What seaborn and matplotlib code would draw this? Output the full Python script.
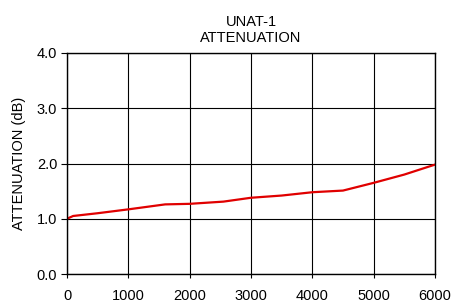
import matplotlib
matplotlib.use("Agg")
import matplotlib.pyplot as plt
import seaborn as sns
import pandas as pd

freq = [0, 100, 500, 1000, 1600, 2000, 2550, 3000, 3500, 4000, 4500, 5000, 5500, 6000]
atten = [1.00, 1.05, 1.10, 1.17, 1.26, 1.27, 1.31, 1.38, 1.42, 1.48, 1.51, 1.65, 1.80, 1.98]
xticks = [0, 1000, 2000, 3000, 4000, 5000, 6000]
yticks = [0.0, 1.0, 2.0, 3.0, 4.0]

sns.set_theme(style="white")
plt.rcParams['font.family'] = ['Liberation Sans', 'DejaVu Sans']

df = pd.DataFrame({"freq": freq, "atten": atten})
fig = plt.figure(figsize=(4.51, 3.03), dpi=100)
ax = fig.add_axes([67/451, 1-274/303, (435-67)/451, (274-53)/303])
sns.lineplot(data=df, x="freq", y="atten", color="#e00000", linewidth=1.6, ax=ax)
ax.set_xlim(0, 6000)
ax.set_ylim(0, 4)
ax.set_xticks(xticks)
ax.set_xticklabels([str(t) for t in xticks], fontsize=10.5)
ax.set_yticks(yticks)
ax.set_yticklabels([f"{t:.1f}" for t in yticks], fontsize=10.5)
ax.grid(True, color="black", linewidth=0.8)
ax.set_axisbelow(True)
for s in ax.spines.values():
    s.set_color("black")
    s.set_linewidth(1.0)
ax.tick_params(axis="y", direction="out", length=4, width=0.8, color="black", labelcolor="black", left=True, pad=3)
ax.tick_params(axis="x", direction="out", length=3, width=0.8, color="black", labelcolor="black", bottom=True, pad=8)
ax.set_xlabel("")
ax.set_ylabel("ATTENUATION (dB)", fontsize=10.5, color="black", labelpad=8)
ax.set_title("UNAT-1\nATTENUATION", fontsize=10.5, color="black", pad=8, linespacing=1.15)
fig.savefig("out.png", dpi=100)
